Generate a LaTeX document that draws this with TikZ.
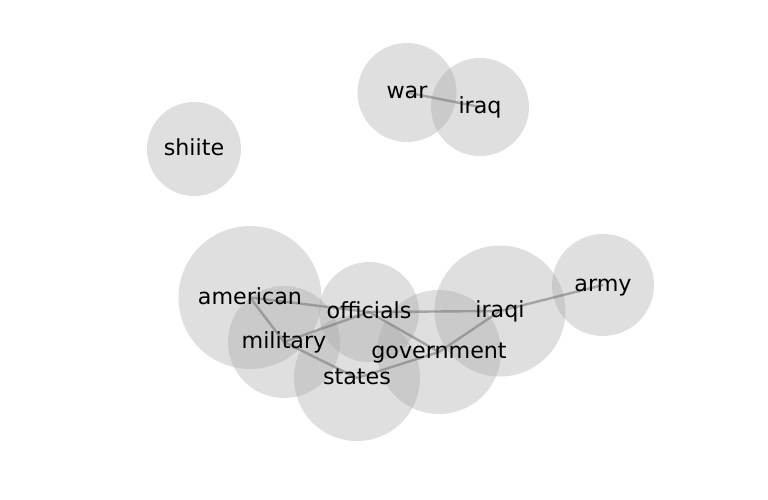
\documentclass[tikz,border=0pt]{standalone}
\usepackage{fontspec}
\setmainfont{DejaVu Sans}
\pgfdeclarelayer{circles}
\pgfdeclarelayer{edges}
\pgfsetlayers{circles,edges,main}
\tikzset{
  word/.style={inner sep=0pt, font=\fontsize{22.2}{24}\selectfont, text height=15pt, text depth=2pt, anchor=center},
  bubble/.style={fill=black!35, fill opacity=0.36},
  link/.style={draw=black!55, line width=2.4pt, opacity=0.55}
}
\begin{document}
\begin{tikzpicture}[x=1pt,y=-1pt]
\useasboundingbox (0,0) rectangle (768,500);
% word nodes
\node[word] (war) at (407,92.5) {war};
\node[word] (iraq) at (480,107) {iraq};
\node[word] (shiite) at (194,149) {shiite};
\node[word] (american) at (250,297.5) {american};
\node[word] (military) at (284,342) {military};
\node[word] (officials) at (369,312) {officials};
\node[word] (states) at (357,378) {states};
\node[word] (government) at (439,352) {government};
\node[word] (iraqi) at (500,311) {iraqi};
\node[word] (army) at (603,285) {army};
% circles
\begin{pgfonlayer}{circles}
\fill[bubble] (war.center) circle (49.5);
\fill[bubble] (iraq.center) circle (49);
\fill[bubble] (shiite.center) circle (47);
\fill[bubble] (american.center) circle (71.5);
\fill[bubble] (military.center) circle (56);
\fill[bubble] (officials.center) circle (50);
\fill[bubble] (states.center) circle (63);
\fill[bubble] (government.center) circle (62);
\fill[bubble] (iraqi.center) circle (65.5);
\fill[bubble] (army.center) circle (51);
\end{pgfonlayer}
% edges
\begin{pgfonlayer}{edges}
\draw[link] (war.center) -- (iraq.center);
\draw[link] (american.center) -- (officials.center);
\draw[link] (american.center) -- (military.center);
\draw[link] (military.center) -- (officials.center);
\draw[link] (military.center) -- (states.center);
\draw[link] (officials.center) -- (iraqi.center);
\draw[link] (officials.center) -- (government.center);
\draw[link] (states.center) -- (government.center);
\draw[link] (government.center) -- (iraqi.center);
\draw[link] (iraqi.center) -- (army.center);
\end{pgfonlayer}
\end{tikzpicture}
\end{document}
